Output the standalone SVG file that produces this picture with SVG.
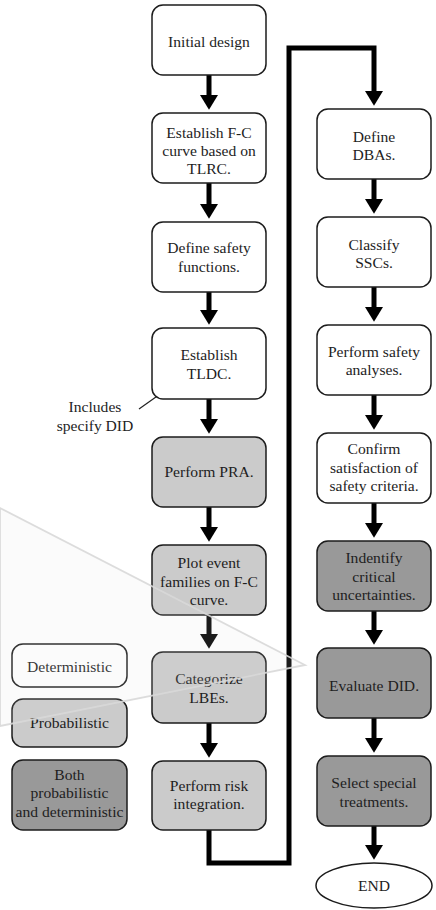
<svg xmlns="http://www.w3.org/2000/svg" width="436" height="910" viewBox="0 0 436 910">
  <defs>
    <style>
      .box { stroke: #1c1c1c; stroke-width: 1.5; }
      .det { fill: #ffffff; }
      .prob { fill: #cbcbcb; }
      .both { fill: #999999; }
      .lbl { font-family: 'Liberation Serif', 'Tinos', 'Times New Roman', 'DejaVu Serif', serif; font-size: 15.6px; fill: #1e1e1e; text-anchor: middle; }
      .flow { fill: none; stroke: #000; stroke-width: 5; }
      .note { fill: none; stroke: #222; stroke-width: 1.2; }
    </style>
    <marker id="head" markerUnits="userSpaceOnUse" markerWidth="22" markerHeight="18" refX="0" refY="11" orient="auto" viewBox="0 0 18 22">
      <path d="M0,0 L18,11 L0,22 Z" fill="#000"/>
    </marker>
  </defs>

  <rect width="436" height="910" fill="#fff"/>

  <!-- connectors -->
  <g id="connectors">
    <line class="flow" x1="209" y1="75" x2="209" y2="95" marker-end="url(#head)"/>
    <line class="flow" x1="209" y1="183" x2="209" y2="204" marker-end="url(#head)"/>
    <line class="flow" x1="209" y1="292" x2="209" y2="310" marker-end="url(#head)"/>
    <line class="flow" x1="209" y1="399" x2="209" y2="419" marker-end="url(#head)"/>
    <line class="flow" x1="209" y1="507" x2="209" y2="527" marker-end="url(#head)"/>
    <line class="flow" x1="209" y1="615" x2="209" y2="634" marker-end="url(#head)"/>
    <line class="flow" x1="209" y1="723" x2="209" y2="743" marker-end="url(#head)"/>
    <path class="flow" d="M209,830 V863 H289 V48 H374 V91" marker-end="url(#head)"/>
    <line class="flow" x1="374" y1="179" x2="374" y2="199" marker-end="url(#head)"/>
    <line class="flow" x1="374" y1="287" x2="374" y2="307" marker-end="url(#head)"/>
    <line class="flow" x1="374" y1="395" x2="374" y2="415" marker-end="url(#head)"/>
    <line class="flow" x1="374" y1="503" x2="374" y2="523" marker-end="url(#head)"/>
    <line class="flow" x1="374" y1="611" x2="374" y2="630" marker-end="url(#head)"/>
    <line class="flow" x1="374" y1="718" x2="374" y2="738" marker-end="url(#head)"/>
    <line class="flow" x1="374" y1="826" x2="374" y2="845" marker-end="url(#head)"/>
    <line class="note" x1="139" y1="409" x2="170" y2="387"/>
  </g>

  <!-- left column -->
  <g id="n-initial-design">
    <rect class="box det" x="152" y="5" width="114" height="70" rx="11"/>
    <text class="lbl" x="209" y="47">Initial design</text>
  </g>
  <g id="n-fc-curve">
    <rect class="box det" x="152" y="113" width="114" height="70" rx="11"/>
    <text class="lbl" x="209" y="138">Establish F-C</text>
    <text class="lbl" x="209" y="156">curve based on</text>
    <text class="lbl" x="209" y="174">TLRC.</text>
  </g>
  <g id="n-safety-functions">
    <rect class="box det" x="152" y="222" width="114" height="70" rx="11"/>
    <text class="lbl" x="209" y="253">Define safety</text>
    <text class="lbl" x="209" y="272">functions.</text>
  </g>
  <g id="n-tldc">
    <rect class="box det" x="152" y="328" width="114" height="71" rx="11"/>
    <text class="lbl" x="209" y="360">Establish</text>
    <text class="lbl" x="209" y="379">TLDC.</text>
  </g>
  <g id="n-note">
    <text class="lbl" x="95" y="412">Includes</text>
    <text class="lbl" x="95" y="431">specify DID</text>
  </g>
  <g id="n-pra">
    <rect class="box prob" x="152" y="437" width="114" height="70" rx="11"/>
    <text class="lbl" x="209" y="477">Perform PRA.</text>
  </g>
  <g id="n-plot-families">
    <rect class="box prob" x="152" y="545" width="114" height="70" rx="11"/>
    <text class="lbl" x="209" y="568">Plot event</text>
    <text class="lbl" x="209" y="587">families on F-C</text>
    <text class="lbl" x="209" y="605">curve.</text>
  </g>
  <g id="n-categorize">
    <rect class="box prob" x="152" y="652" width="114" height="71" rx="11"/>
    <text class="lbl" x="209" y="684">Categorize</text>
    <text class="lbl" x="209" y="703">LBEs.</text>
  </g>
  <g id="n-risk-integration">
    <rect class="box prob" x="152" y="761" width="114" height="69" rx="11"/>
    <text class="lbl" x="209" y="791">Perform risk</text>
    <text class="lbl" x="209" y="809">integration.</text>
  </g>

  <!-- right column -->
  <g id="n-dbas">
    <rect class="box det" x="317" y="109" width="114" height="70" rx="11"/>
    <text class="lbl" x="374" y="142">Define</text>
    <text class="lbl" x="374" y="160">DBAs.</text>
  </g>
  <g id="n-sscs">
    <rect class="box det" x="317" y="217" width="114" height="70" rx="11"/>
    <text class="lbl" x="374" y="250">Classify</text>
    <text class="lbl" x="374" y="268">SSCs.</text>
  </g>
  <g id="n-safety-analyses">
    <rect class="box det" x="317" y="325" width="114" height="70" rx="11"/>
    <text class="lbl" x="374" y="357">Perform safety</text>
    <text class="lbl" x="374" y="375">analyses.</text>
  </g>
  <g id="n-criteria">
    <rect class="box det" x="317" y="433" width="114" height="70" rx="11"/>
    <text class="lbl" x="374" y="454">Confirm</text>
    <text class="lbl" x="374" y="473">satisfaction of</text>
    <text class="lbl" x="374" y="491">safety criteria.</text>
  </g>
  <g id="n-uncertainties">
    <rect class="box both" x="317" y="541" width="114" height="70" rx="11"/>
    <text class="lbl" x="374" y="563">Indentify</text>
    <text class="lbl" x="374" y="582">critical</text>
    <text class="lbl" x="374" y="600">uncertainties.</text>
  </g>
  <g id="n-evaluate-did">
    <rect class="box both" x="317" y="648" width="114" height="70" rx="11"/>
    <text class="lbl" x="374" y="691">Evaluate DID.</text>
  </g>
  <g id="n-special-treatments">
    <rect class="box both" x="317" y="756" width="114" height="70" rx="11"/>
    <text class="lbl" x="374" y="788">Select special</text>
    <text class="lbl" x="374" y="807">treatments.</text>
  </g>
  <g id="n-end">
    <ellipse class="box det" cx="374" cy="885.5" rx="58" ry="22.5"/>
    <text class="lbl" x="374" y="891">END</text>
  </g>

  <!-- legend -->
  <g id="legend-deterministic">
    <rect class="box det" x="12" y="644" width="115" height="43" rx="11"/>
    <text class="lbl" x="69.5" y="672">Deterministic</text>
  </g>
  <g id="legend-probabilistic">
    <rect class="box prob" x="12" y="699" width="115" height="48" rx="11"/>
    <text class="lbl" x="69.5" y="728">Probabilistic</text>
  </g>
  <g id="legend-both">
    <rect class="box both" x="12" y="760" width="115" height="70" rx="11"/>
    <text class="lbl" x="69.5" y="780">Both</text>
    <text class="lbl" x="69.5" y="798">probabilistic</text>
    <text class="lbl" x="69.5" y="817">and deterministic</text>
  </g>

  <!-- faint wedge across the lower left -->
  <polygon points="0,508 305,665 0,726" fill="#e0e0e0" fill-opacity="0.12" stroke="#d8d8d8" stroke-width="1.8" stroke-opacity="0.9"/>
</svg>
